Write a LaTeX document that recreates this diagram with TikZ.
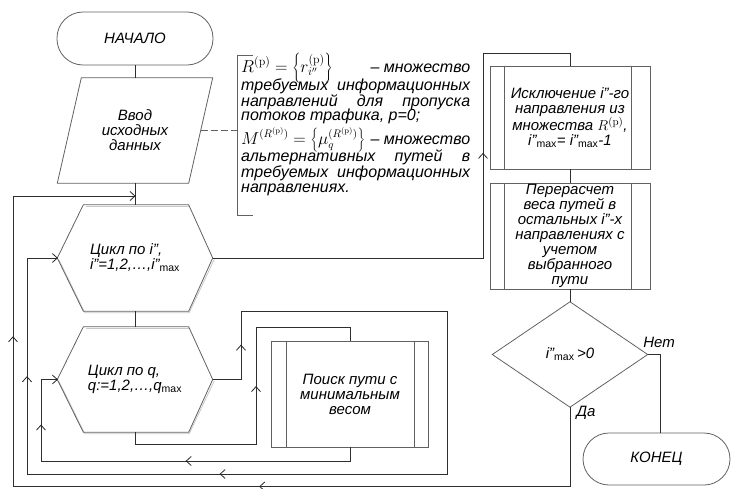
\documentclass[tikz,border=0pt]{standalone}
\usepackage[no-math]{fontspec}
\setmainfont{Liberation Sans}
\usetikzlibrary{calc}
% i''_max with an upright subscript
\newcommand\imx{i"\textsubscript{\upshape max}}
% a formula set a little larger than the running text, kept out of the line height
\newcommand\bigmath[2][17]{\smash{\fontsize{#1}{15}\selectfont$#2$}}
\begin{document}
\begin{tikzpicture}[
  x=1pt, y=-1pt,
  outline/.style={draw=black!62, line width=0.8pt, line join=miter},
  bevel/.style={draw=black!22, line width=0.8pt},
  conn/.style={draw=black!82, line width=0.8pt, line join=miter},
  txt/.style={font=\itshape\fontsize{15}{15}\selectfont, align=center, inner sep=0pt},
  frame/.style={txt, minimum width=#1},
  term/.style={txt, outline, rounded corners=26pt},
  proc/.style={txt, outline},
  noteline/.style={anchor=base west, inner sep=0pt, font=\itshape\fontsize{16}{16}\selectfont},
  chev/.pic={\draw[black!85, line width=0.8pt, line join=miter] (-5,-4.5) -- (0,0) -- (-5,4.5);},
  mid/.style={pos=#1, sloped, allow upside down},
]
\useasboundingbox (0,0) rectangle (731,488);

% ---------- left column ----------
\node[term, minimum width=156pt, minimum height=53pt] (start) at (135,38.5) {НАЧАЛО};

\node[frame=131pt, minimum height=105pt] (in) at (135,130.5) {Ввод\\исходных\\данных};
\draw[outline] ($(in.north west)+(12,0)$) -- ($(in.north east)+(12,0)$)
  -- ($(in.south east)+(-12,0)$) -- ($(in.south west)+(-12,0)$) -- cycle;

\node[frame=155pt, minimum height=106pt, align=left] (h1) at (135,258) {Цикл по i",\\i"=1,2,…,\imx};
\node[frame=155pt, minimum height=105pt, align=left] (h2) at (135,379.5) {Цикл по q,\\q:=1,2,…,q\textsubscript{\upshape max}};
\foreach \h in {h1,h2}{
  \draw[bevel] ($(\h.west)+(1.5,1.5)$) -- ($(\h.south west)+(27.5,1.5)$) -- ($(\h.south east)+(-23.5,1.5)$) -- ($(\h.east)+(1.5,1.5)$);
  \draw[bevel] ($(\h.north west)+(28.5,1.5)$) -- ($(\h.north east)+(-23.5,1.5)$);
  \draw[outline] (\h.west) -- ($(\h.north west)+(26,0)$) -- ($(\h.north east)+(-24,0)$)
    -- (\h.east) -- ($(\h.south east)+(-24,0)$) -- ($(\h.south west)+(26,0)$) -- cycle;
}

\node[proc, minimum width=157pt, minimum height=106pt] (srch) at (350,394) {Поиск пути с\\минимальным\\весом};
\draw[outline] ($(srch.north west)+(15,0)$) -- ($(srch.south west)+(15,0)$);
\draw[outline] ($(srch.north east)+(-15,0)$) -- ($(srch.south east)+(-15,0)$);

% ---------- note: one justified line per node ----------
\node[noteline] (nl1) at (241,72)  {\hbox to 229pt{\bigmath{R^{(\mathrm{p})}=\left\{r_{i''}^{(\mathrm{p})}\right\}}\hfill – множество}};
\node[noteline] (nl2) at (241,90)  {\hbox to 229pt{требуемых\hfill информационных}};
\node[noteline] (nl3) at (241,106) {\hbox to 229pt{направлений\hfill для\hfill пропуска}};
\node[noteline] (nl4) at (241,120) {потоков трафика, p=0;};
\node[noteline] (nl5) at (241,144) {\hbox to 229pt{\bigmath[16]{M^{(R^{(\mathrm{p})})}=\left\{\mu_q^{(R^{(\mathrm{p})})}\right\}}\hfill – множество}};
\node[noteline] (nl6) at (241,161) {\hbox to 229pt{альтернативных\hfill путей\hfill в}};
\node[noteline] (nl7) at (241,177) {\hbox to 229pt{требуемых\hfill информационных}};
\node[noteline] (nl8) at (241,192) {направлениях.};
\coordinate (brt) at (253,55);
\coordinate (brb) at (253,215);
\coordinate (brm) at (237,130.5);
\draw[outline] (brt) -- (brt -| brm) -- (brb -| brm) -- (brb);
\draw[outline, dash pattern=on 7pt off 3pt] (in.east) -- (brm);

% ---------- right column ----------
\node[proc, minimum width=160pt, minimum height=103pt] (excl) at (570,117.5)
  {Исключение i"-го\\направления из\\множества $R^{(\mathrm{p})}$,\\\imx= \imx-1};
\node[proc, minimum width=160pt, minimum height=106pt] (recalc) at (570,236)
  {Перерасчет\\веса путей в\\остальных i"-х\\направлениях с\\учетом\\выбранного\\пути};
\foreach \b in {excl,recalc}{
  \draw[outline] ($(\b.north west)+(15,0)$) -- ($(\b.south west)+(15,0)$);
  \draw[outline] ($(\b.north east)+(-19,0)$) -- ($(\b.south east)+(-19,0)$);
}

\node[frame=155pt, minimum height=105pt] (dec) at (570,354.5) {\imx\,>0};
\draw[outline] (dec.north) -- (dec.east) -- (dec.south) -- (dec.west) -- cycle;

\node[term, minimum width=147pt, minimum height=52pt] (stop) at (656.5,459) {КОНЕЦ};

\node[txt] (no) at (659,342) {Нет};
\node[txt] (yes) at (586,413) {Да};

% ---------- connectors ----------
\draw[conn] (start) -- (in);
\draw[conn] (in) -- (h1);
\draw[conn] (h1) -- (h2);
\draw[conn] (excl) -- (recalc);
\draw[conn] (recalc) -- (dec);
\coordinate (nov) at ($(stop.north)+(3.5,0)$);
\draw[conn] (dec.east) -- (dec.east -| nov) -- (nov);

% "yes" branch back to the outer loop
\coordinate (j1) at (135,196);
\coordinate (ya) at (570,486.5);
\coordinate (yb) at (13,486.5);
\coordinate (yc) at (13,196);
\draw[conn] (dec.south) -- (ya) -- pic[mid=.557]{chev} (yb)
  -- pic[mid=.515]{chev} (yc) -- pic[mid=1]{chev} (j1);

% outer loop exit to the right column
\coordinate (ra) at (483,258);
\coordinate (rb) at (483,53);
\coordinate (rc) at (570,53);
\draw[conn] (h1.east) -- (ra) -- pic[mid=.51]{chev} (rb) -- (rc) -- (excl.north);

% inner loop exit back to the outer loop
\coordinate (qa) at (241,379.5);
\coordinate (qb) at (241,311);
\coordinate (qc) at (447,311);
\coordinate (qd) at (447,474);
\coordinate (qe) at (27,474);
\coordinate (qf) at (27,258);
\draw[conn] (h2.east) -- (qa) -- pic[mid=.5]{chev} (qb) -- (qc) -- (qd)
  -- pic[mid=.54]{chev} (qe) -- pic[mid=.45]{chev} (qf)
  -- pic[mid=1]{chev} (h1.west);

% inner loop body
\coordinate (sa) at (135,444);
\coordinate (sb) at (256,444);
\coordinate (sc) at (256,327);
\coordinate (sd) at (350,327);
\draw[conn] (h2.south) -- (sa) -- (sb) -- pic[mid=.49]{chev} (sc) -- (sd) -- (srch.north);

% return from the search to the inner loop
\coordinate (ta) at (350,461);
\coordinate (tb) at (41,461);
\coordinate (tc) at (41,379.5);
\draw[conn] (srch.south) -- (ta) -- pic[mid=.53]{chev} (tb)
  -- pic[mid=.44]{chev} (tc) -- pic[mid=1]{chev} (h2.west);
\end{tikzpicture}
\end{document}
